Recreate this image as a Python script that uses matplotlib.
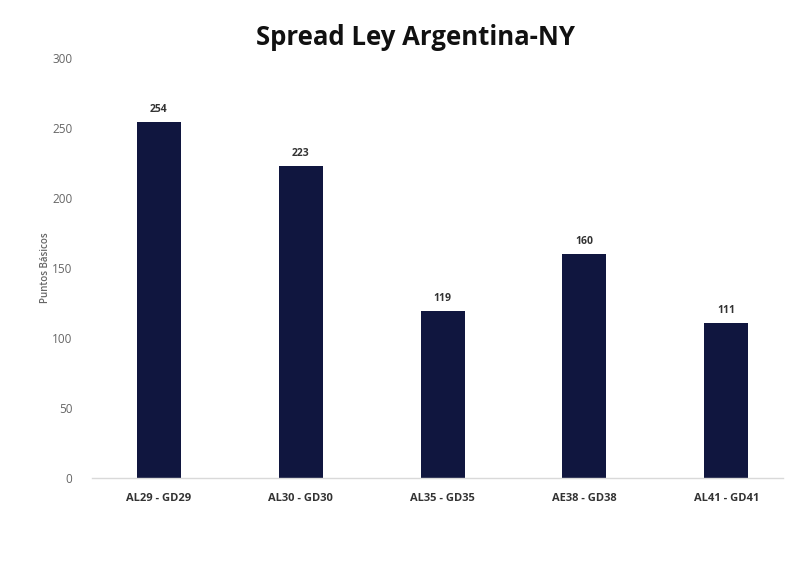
import matplotlib
matplotlib.use('Agg')
import matplotlib.pyplot as plt

bonos = ['AL29 - GD29', 'AL30 - GD30', 'AL35 - GD35', 'AE38 - GD38', 'AL41 - GD41']
spread = [254, 223, 119, 160, 111]

plt.rcParams['font.family'] = ['Open Sans', 'DejaVu Sans']

fig = plt.figure(figsize=(8, 5.69), dpi=100)
ax = fig.add_axes([0.115, 0.16, 0.864, 0.738])

x = range(len(bonos))
bars = ax.bar(x, spread, width=0.31, color='#10163f', zorder=2)

for xi, v in zip(x, spread):
    ax.text(xi, v + 5, str(v), ha='center', va='bottom', fontsize=7.5,
            fontweight='bold', color='#333333')

ax.set_xlim(-0.47, 4.4)
ax.set_ylim(0, 300)
ax.set_yticks(range(0, 301, 50))
ax.set_xticks(list(x))
ax.set_xticklabels(bonos, fontsize=8, fontweight='bold', color='#333333')
ax.tick_params(axis='y', labelsize=8.5, labelcolor='#666666', length=0, pad=14)
ax.tick_params(axis='x', length=0, pad=11)

for s in ['top', 'right', 'left']:
    ax.spines[s].set_visible(False)
ax.spines['bottom'].set_color('#d9d9d9')
ax.spines['bottom'].set_linewidth(1)

ax.set_ylabel('Puntos Básicos', fontsize=7, fontweight='semibold',
              color='#666666', labelpad=1)

fig.suptitle('Spread Ley Argentina-NY', x=0.519, y=0.958, fontsize=18.5,
             fontweight='bold', color='#111111')

fig.savefig('out.png', dpi=100)
